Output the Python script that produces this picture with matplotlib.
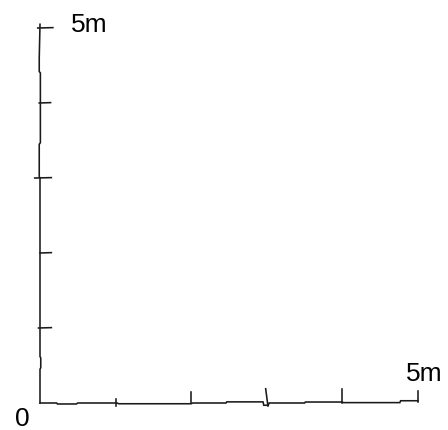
import matplotlib
matplotlib.use("Agg")
import matplotlib.pyplot as plt

## axis data (metres)
axis_max = 5
x_ticks = [1, 2, 3, 4, 5]
y_ticks = [1, 2, 3, 4, 5]
origin_label = "0"
max_label = "5m"

## hand drawn wobble of the axis lines (data units)
x_line_x = [0, 0.22, 0.23, 0.48, 0.5, 1.02, 1.04, 2.0, 2.02, 2.46, 2.47, 2.95, 2.96, 3.02, 3.03, 3.5, 3.51, 4.0, 4.01, 4.76, 4.77, 5.0]
x_line_y = [0, 0, -0.013, -0.013, 0, 0, -0.01, -0.01, 0, 0, 0.015, 0.015, -0.03, -0.03, 0.0, 0.0, 0.013, 0.013, 0.005, 0.005, 0.03, 0.03]
y_line_x = [0, 0, 0.01, 0.01, 0, 0, -0.01, -0.01, 0.005, 0.005, -0.01, -0.01, 0]
y_line_y = [0, 0.45, 0.47, 0.6, 0.62, 3.0, 3.02, 3.45, 3.47, 4.4, 4.42, 4.6, 5.05]

## tick shapes (start/end offsets)
x_tick_lo = [-0.04, -0.0, -0.04, 0.0, 0.02]
x_tick_hi = [0.05, 0.15, 0.19, 0.19, 0.16]
x_tick_lean = [0.0, 0.0, 0.015, 0.0, 0.0]
y_tick_lo = [-0.02, 0.0, -0.07, -0.01, -0.03]
y_tick_hi = [0.15, 0.15, 0.15, 0.14, 0.17]

fig = plt.figure(figsize=(4.48, 4.30), dpi=100)
ax = fig.add_axes([0, 0, 1, 1])
ax.set_xlim(-40 / 75.6, 408 / 75.6)
ax.set_ylim(-27 / 75.0, 403 / 75.0)
ax.axis("off")

col = "#1a1a1a"
lw = 1.15

## axes
ax.plot(x_line_x, x_line_y, color=col, lw=lw, solid_joinstyle="miter")
ax.plot(y_line_x, y_line_y, color=col, lw=lw, solid_joinstyle="miter")

## ticks
for t, lo, hi, lean in zip(x_ticks, x_tick_lo, x_tick_hi, x_tick_lean):
    ax.plot([t + lean, t - lean], [lo, hi], color=col, lw=lw)
for t, lo, hi in zip(y_ticks, y_tick_lo, y_tick_hi):
    ax.plot([lo, hi], [t, t + 0.005], color=col, lw=lw)

## labels
fs = 19
ax.text(-0.33, -0.31, origin_label, fontsize=fs, family="Liberation Sans", ha="left", va="baseline", color="black")
ax.text(0.41, 4.947, max_label, fontsize=fs, family="Liberation Sans", ha="left", va="baseline", color="black")
ax.text(4.84, 0.293, max_label, fontsize=fs, family="Liberation Sans", ha="left", va="baseline", color="black")

plt.savefig("out.png", dpi=100)
